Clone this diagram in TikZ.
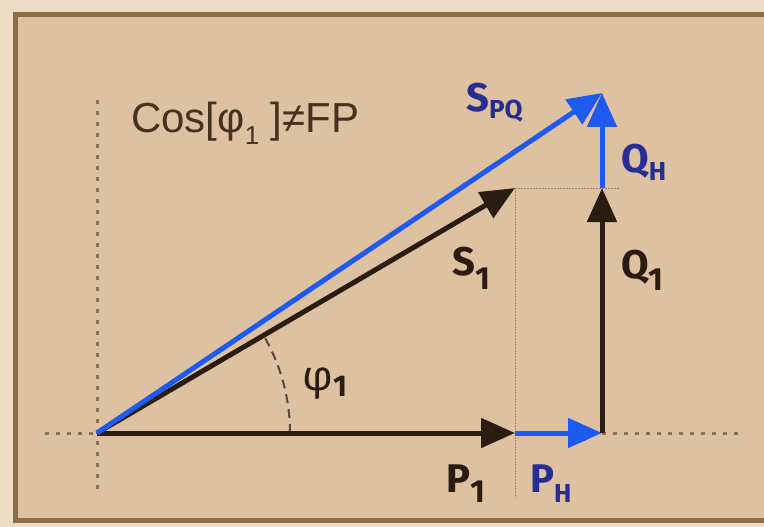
\documentclass[tikz,border=0pt]{standalone}
\usepackage{fontspec}
\setmainfont{Liberation Sans}
\newfontfamily\labfont{Fira Sans}
\usetikzlibrary{arrows.meta}
\definecolor{bgtan}{RGB}{221,193,160}
\definecolor{outer}{RGB}{236,220,198}
\definecolor{frame}{RGB}{140,110,70}
\definecolor{darkar}{RGB}{42,28,16}
\definecolor{bluear}{RGB}{30,90,240}
\definecolor{bluelab}{RGB}{40,45,150}
\definecolor{dotc}{RGB}{140,112,82}
\definecolor{txtc}{RGB}{70,50,30}
\tikzset{
  vec/.style={line width=5pt, -{Triangle[length=34pt,width=29pt]}},
  blackvec/.style={vec, draw=darkar},
  bluevec/.style={vec, draw=bluear},
  axis/.style={draw=dotc, line width=3pt, dash pattern=on 4pt off 7pt},
  guide/.style={draw=dotc!85, line width=1pt, dash pattern=on 1.5pt off 1.5pt},
  lab/.style={font=\labfont\bfseries, inner sep=0pt, anchor=base west},
}
\newcommand{\lbl}[4]{#1\raisebox{-#4}{\fontsize{#3}{#3}\selectfont #2}}
\begin{document}
\begin{tikzpicture}[x=1pt,y=-1pt]
\useasboundingbox (0,0) rectangle (764,527);
\fill[outer] (0,0) rectangle (764,527);
\fill[bgtan] (15,15) rectangle (764,520);
\draw[frame, line width=5pt] (764,15) -- (15.5,15) -- (15.5,520) -- (764,520);
% named points
\coordinate (O) at (97,433);
\coordinate (A) at (515,433);
\coordinate (B) at (602,433);
\coordinate (C) at (602,188);
\coordinate (D) at (602,93);
\coordinate (E) at (515,188);
\coordinate (Hl) at (45,433);
\coordinate (Hr) at (740,433);
\coordinate (Vt) at (97,100);
\coordinate (Vb) at (97,492);
\coordinate (Eb) at (515,498);
\coordinate (Cr) at (620,188);
% axes
\draw[axis] (Hl) -- (O);
\draw[axis] (B) -- (Hr);
\draw[axis] (Vt) -- (Vb);
\draw[guide] (E) -- (Eb);
\draw[guide] (E) -- (Cr);
% angle arc
\draw[draw=darkar!80, line width=2pt, dash pattern=on 9pt off 6pt]
  ([xshift=193pt]O) arc[start angle=0, end angle=31, radius=193pt];
% vectors
\draw[blackvec] (O) -- (A);
\draw[bluevec] (A) -- (B);
\draw[blackvec] (B) -- (C);
\draw[bluevec] (C) -- (D);
\draw[blackvec] (O) -- (E);
\draw[bluevec] (O) -- (D);
% labels
\node[font=\fontsize{42}{42}\selectfont, text=txtc, inner sep=0pt, anchor=base west] (title) at (131,132)
  {Cos[φ\raisebox{-12pt}{\fontsize{26}{26}\selectfont 1} ]≠FP};
\node[lab, text=bluelab] (spq) at (466,112) {\fontsize{40}{40}\selectfont\lbl{S}{PQ}{26}{6pt}};
\node[lab, text=bluelab] (qh) at (621,172) {\fontsize{40}{40}\selectfont\lbl{Q}{H}{26}{8pt}};
\node[lab, text=darkar] (s1) at (452,275) {\fontsize{40}{40}\selectfont\lbl{S}{1}{32}{14pt}};
\node[lab, text=darkar] (q1) at (621,278) {\fontsize{40}{40}\selectfont\lbl{Q}{1}{32}{12pt}};
\node[lab, text=darkar] (p1) at (446,492) {\fontsize{40}{40}\selectfont\lbl{P}{1}{32}{10pt}};
\node[lab, text=bluelab] (ph) at (530,492) {\fontsize{40}{40}\selectfont\lbl{P}{H}{26}{10pt}};
\node[inner sep=0pt, anchor=base west, text=darkar, font=\labfont\fontsize{42}{42}\selectfont] (phi) at (302,390)
  {φ\raisebox{-6pt}{\bfseries\fontsize{30}{30}\selectfont 1}};
\end{tikzpicture}
\end{document}
